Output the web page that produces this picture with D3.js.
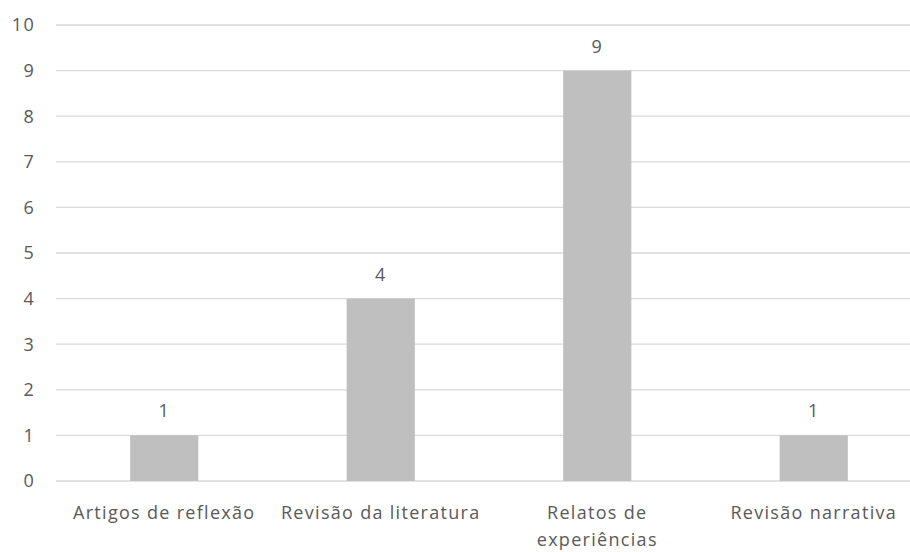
<!DOCTYPE html>
<html>
<head>
<meta charset="utf-8">
<script src="https://cdn.jsdelivr.net/npm/d3@7"></script>
<style>
	body { margin: 0; background: #fff; }
	text { font-family: "Open Sans", sans-serif; fill: #595959; font-size: 18px; letter-spacing: 1.3px; }
</style>
</head>
<body>
<svg id="chart" width="910" height="552"></svg>
<script>
let categories = ['Artigos de reflexão', 'Revisão da literatura', 'Relatos de experiências', 'Revisão narrativa'];
let values = [1, 4, 9, 1];
let yTicks = [0, 1, 2, 3, 4, 5, 6, 7, 8, 9, 10];

let svg = d3.select('#chart');
let margin = {left: 56, right: -12, top: 25, bottom: 71};
let width = 910 - margin.left - margin.right;
let height = 552 - margin.top - margin.bottom;

let x = d3.scaleBand()
	.domain(categories)
	.range([margin.left, margin.left + width]);

let y = d3.scaleLinear()
	.domain([0, 10])
	.range([margin.top + height, margin.top]);

// gridlines
svg.append('g')
	.selectAll('line')
	.data(yTicks)
	.enter()
	.append('line')
	.attr('x1', margin.left)
	.attr('x2', margin.left + width)
	.attr('y1', d => y(d))
	.attr('y2', d => y(d))
	.attr('stroke', '#d9d9d9')
	.attr('stroke-width', 1.3);

// y tick labels
svg.append('g')
	.selectAll('text')
	.data(yTicks)
	.enter()
	.append('text')
	.attr('x', 35)
	.attr('y', d => y(d))
	.attr('dy', '0.36em')
	.attr('text-anchor', 'end')
	.text(d => d);

let barW = x.bandwidth() * 0.315;

svg.append('g')
	.selectAll('rect')
	.data(values)
	.enter()
	.append('rect')
	.attr('x', (d, i) => x(categories[i]) + x.bandwidth() / 2 - barW / 2)
	.attr('y', d => y(d))
	.attr('width', barW)
	.attr('height', d => y(0) - y(d))
	.attr('fill', '#bfbfbf');

// value labels
svg.append('g')
	.selectAll('text')
	.data(values)
	.enter()
	.append('text')
	.attr('x', (d, i) => x(categories[i]) + x.bandwidth() / 2)
	.attr('y', d => y(d) - 18)
	.attr('text-anchor', 'middle')
	.text(d => d);

// category labels, wrapped like Excel does
let catLabels = svg.append('g')
	.selectAll('text')
	.data(categories)
	.enter()
	.append('text')
	.attr('x', d => x(d) + x.bandwidth() / 2)
	.attr('y', y(0) + 38)
	.attr('text-anchor', 'middle')
	.text(d => d);

catLabels.each(function(d) {
	let t = d3.select(this);
	let maxW = 208;
	if (this.getComputedTextLength() <= maxW) return;
	let words = d.split(' ');
	let lines = [];
	let line = [];
	t.text(null);
	let probe = t.append('tspan');
	words.forEach(w => {
		line.push(w);
		probe.text(line.join(' '));
		if (probe.node().getComputedTextLength() > maxW && line.length > 1) {
			line.pop();
			lines.push(line.join(' '));
			line = [w];
		}
	});
	lines.push(line.join(' '));
	probe.remove();
	lines.forEach((l, i) => {
		t.append('tspan')
			.attr('x', t.attr('x'))
			.attr('dy', i == 0 ? 0 : 27)
			.text(l);
	});
});
</script>
</body>
</html>
